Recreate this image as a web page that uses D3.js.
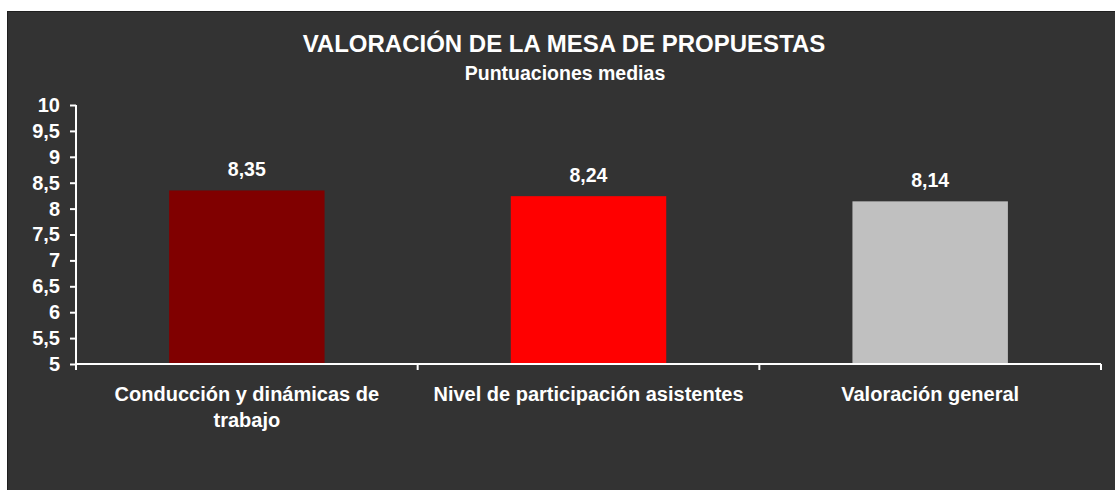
<!DOCTYPE html>
<html>
<head>
<meta charset="utf-8">
<script src="https://cdn.jsdelivr.net/npm/d3@7/dist/d3.min.js"></script>
<style>
  html, body { margin: 0; padding: 0; background: #ffffff; }
  svg { display: block; }
  text { font-family: "Liberation Sans", Arial, sans-serif; font-weight: bold; fill: #ffffff; }
</style>
</head>
<body>
<svg id="chart" width="1115" height="490"></svg>
<script>
const titleText = "VALORACIÓN DE LA MESA DE PROPUESTAS";
const subtitleText = "Puntuaciones medias";
const categories = ["Conducción y dinámicas de trabajo", "Nivel de participación asistentes", "Valoración general"];
const values = [8.35, 8.24, 8.14];
const valueLabels = ["8,35", "8,24", "8,14"];
const barColors = ["#800000", "#ff0000", "#c0c0c0"];
const yTicks = [5, 5.5, 6, 6.5, 7, 7.5, 8, 8.5, 9, 9.5, 10];
const yTickLabels = ["5", "5,5", "6", "6,5", "7", "7,5", "8", "8,5", "9", "9,5", "10"];

const svg = d3.select("#chart");
svg.append("rect").attr("x", 7.5).attr("y", 11.5).attr("width", 1110).attr("height", 480)
  .attr("fill", "#333333").attr("stroke", "#1f1f1f").attr("stroke-width", 1);

const pLeft = 76, pRight = 1101, pTop = 105, pBottom = 364;
const x = d3.scaleBand().domain(categories).range([pLeft, pRight]).paddingInner(0.545).paddingOuter(0.2725);
const y = d3.scaleLinear().domain([5, 10]).range([pBottom, pTop]);

svg.append("text").attr("x", 564).attr("y", 52).attr("text-anchor", "middle")
  .style("font-size", "24px").text(titleText);
svg.append("text").attr("x", 565).attr("y", 79.5).attr("text-anchor", "middle")
  .style("font-size", "19.5px").text(subtitleText);

// bars
svg.selectAll("rect.bar").data(categories).enter().append("rect").attr("class", "bar")
  .attr("x", d => x(d)).attr("width", x.bandwidth())
  .attr("y", (d, i) => y(values[i])).attr("height", (d, i) => y(5) - y(values[i]))
  .attr("fill", (d, i) => barColors[i]);

// value labels
svg.selectAll("text.val").data(categories).enter().append("text").attr("class", "val")
  .attr("x", d => x(d) + x.bandwidth() / 2).attr("y", (d, i) => y(values[i]) - 14)
  .attr("text-anchor", "middle").style("font-size", "19.5px")
  .text((d, i) => valueLabels[i]);

// y axis
const yAxis = d3.axisLeft(y).tickValues(yTicks).tickSize(6).tickPadding(10)
  .tickFormat((d, i) => yTickLabels[i]);
const gy = svg.append("g").attr("transform", `translate(${pLeft},0)`).call(yAxis);
gy.select(".domain").remove();
gy.append("line").attr("x1", 0).attr("x2", 0).attr("y1", pTop).attr("y2", pBottom + 6)
  .attr("stroke", "#ffffff").attr("stroke-width", 2);
gy.selectAll(".tick line").attr("stroke", "#ffffff").attr("stroke-width", 2);
gy.selectAll(".tick text").style("font-size", "20px").attr("fill", "#ffffff")
  .style("font-family", "'Liberation Sans', Arial, sans-serif").style("font-weight", "bold");

// x axis
const gx = svg.append("g").attr("transform", `translate(0,${pBottom})`);
gx.append("line").attr("x1", pLeft).attr("x2", pRight).attr("y1", 0).attr("y2", 0)
  .attr("stroke", "#ffffff").attr("stroke-width", 2);
const boundaries = categories.map((d, i) => pLeft + x.step() * (i + 1));
gx.selectAll("line.bt").data(boundaries).enter().append("line").attr("class", "bt")
  .attr("x1", d => d).attr("x2", d => d).attr("y1", 0).attr("y2", 6)
  .attr("stroke", "#ffffff").attr("stroke-width", 2);

// category labels with wrapping
const maxW = 325;
const labels = gx.selectAll("text.cat").data(categories).enter().append("text").attr("class", "cat")
  .attr("text-anchor", "middle").style("font-size", "20px")
  .attr("transform", d => `translate(${x(d) + x.bandwidth() / 2},37)`);
labels.each(function(d) {
  const t = d3.select(this);
  const words = d.split(" ");
  let line = [];
  let tspan = t.append("tspan").attr("x", 0).attr("dy", 0);
  words.forEach(w => {
    line.push(w);
    tspan.text(line.join(" "));
    if (tspan.node().getComputedTextLength() > maxW && line.length > 1) {
      line.pop();
      tspan.text(line.join(" "));
      line = [w];
      tspan = t.append("tspan").attr("x", 0).attr("dy", 26).text(w);
    }
  });
});
</script>
</body>
</html>
